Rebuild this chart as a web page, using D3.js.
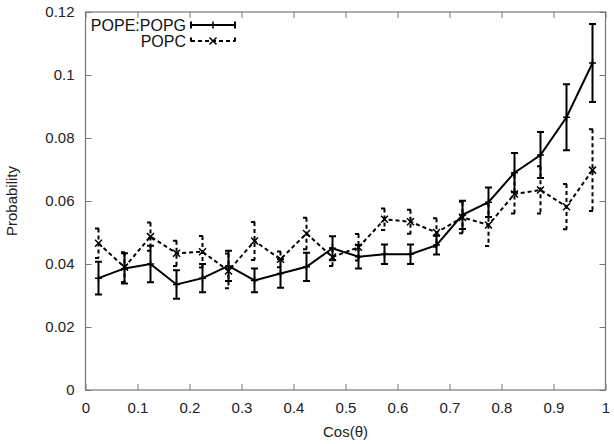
<!DOCTYPE html>
<html>
<head>
<meta charset="utf-8">
<script src="https://cdn.jsdelivr.net/npm/d3@7"></script>
<style>
  body { margin: 0; background: #fff; }
  svg { display: block; font-family: "Liberation Sans", Arial, sans-serif; }
</style>
</head>
<body>
<svg id="chart"></svg>
<script>
// Bin centres along cos(theta)
const binCenters = [0.025, 0.075, 0.125, 0.175, 0.225, 0.275, 0.325, 0.375, 0.425, 0.475,
                    0.525, 0.575, 0.625, 0.675, 0.725, 0.775, 0.825, 0.875, 0.925, 0.975];

// POPE:POPG probabilities and error half-widths
const popgValues = [0.0355, 0.0386, 0.0400, 0.0335, 0.0355, 0.0394, 0.0348, 0.0370, 0.0391, 0.0450,
                    0.0423, 0.0431, 0.0431, 0.0460, 0.0556, 0.0596, 0.0690, 0.0746, 0.0866, 0.1038];
const popgErrors = [0.0052, 0.0048, 0.0058, 0.0045, 0.0045, 0.0048, 0.0038, 0.0045, 0.0045, 0.0038,
                    0.0037, 0.0031, 0.0031, 0.0030, 0.0045, 0.0047, 0.0062, 0.0073, 0.0105, 0.0124];

// POPC probabilities and error half-widths
const popcValues = [0.0466, 0.0390, 0.0487, 0.0434, 0.0439, 0.0378, 0.0473, 0.0415, 0.0497, 0.0422,
                    0.0453, 0.0542, 0.0534, 0.0500, 0.0548, 0.0524, 0.0622, 0.0635, 0.0582, 0.0698];
const popcErrors = [0.0047, 0.0047, 0.0045, 0.0040, 0.0050, 0.0055, 0.0060, 0.0025, 0.0050, 0.0028,
                    0.0042, 0.0034, 0.0038, 0.0045, 0.0050, 0.0067, 0.0062, 0.0075, 0.0072, 0.0130];

const xTicks = [0, 0.1, 0.2, 0.3, 0.4, 0.5, 0.6, 0.7, 0.8, 0.9, 1];
const yTicks = [0, 0.02, 0.04, 0.06, 0.08, 0.1, 0.12];

const seriesNames = ["POPE:POPG", "POPC"];

const width = 614, height = 444;
const margin = { top: 12, right: 8.5, bottom: 54, left: 85.5 };

const svg = d3.select("#chart").attr("width", width).attr("height", height);

const x = d3.scaleLinear().domain([0, 1]).range([margin.left, width - margin.right]);
const y = d3.scaleLinear().domain([0, 0.12]).range([height - margin.bottom, margin.top]);

const frameColor = "#777";
const tickLen = 6;
const fontSize = 15;

// Axes: bottom/left with labels, top/right mirrored ticks only
const fmt = d => d === 0 ? "0" : String(+d.toFixed(2));

svg.append("g")
  .attr("transform", `translate(0,${y(0)})`)
  .call(d3.axisBottom(x).tickValues(xTicks).tickSizeInner(-tickLen).tickSizeOuter(0).tickPadding(12).tickFormat(fmt))
  .call(g => g.select(".domain").remove());

svg.append("g")
  .attr("transform", `translate(0,${y(0.12)})`)
  .call(d3.axisTop(x).tickValues(xTicks).tickSizeInner(-tickLen).tickSizeOuter(0).tickFormat(""))
  .call(g => g.select(".domain").remove());

svg.append("g")
  .attr("transform", `translate(${x(0)},0)`)
  .call(d3.axisLeft(y).tickValues(yTicks).tickSizeInner(-tickLen).tickSizeOuter(0).tickPadding(11).tickFormat(fmt))
  .call(g => g.select(".domain").remove());

svg.append("g")
  .attr("transform", `translate(${x(1)},0)`)
  .call(d3.axisRight(y).tickValues(yTicks).tickSizeInner(-tickLen).tickSizeOuter(0).tickFormat(""))
  .call(g => g.select(".domain").remove());

svg.selectAll(".tick line").attr("stroke", frameColor).attr("stroke-width", 1);
svg.selectAll(".tick text").attr("font-size", fontSize).attr("fill", "#222")
  .attr("font-family", "'Liberation Sans', Arial, sans-serif");

// Frame
svg.append("rect")
  .attr("x", x(0)).attr("y", y(0.12))
  .attr("width", x(1) - x(0)).attr("height", y(0) - y(0.12))
  .attr("fill", "none").attr("stroke", frameColor).attr("stroke-width", 1.2);

// Axis titles
svg.append("text")
  .attr("x", (x(0) + x(1)) / 2).attr("y", 437)
  .attr("text-anchor", "middle").attr("font-size", fontSize).attr("fill", "#222")
  .text("Cos(θ)");

svg.append("text")
  .attr("transform", `translate(17,${(y(0) + y(0.12)) / 2}) rotate(-90)`)
  .attr("text-anchor", "middle").attr("font-size", fontSize).attr("fill", "#222")
  .text("Probability");

const series = [
  { name: seriesNames[0], values: popgValues, errors: popgErrors, dash: null, marker: "plus" },
  { name: seriesNames[1], values: popcValues, errors: popcErrors, dash: "4,3", marker: "cross" }
];

const cap = 3.5;
const line = d3.line().x(d => x(d.x)).y(d => y(d.v));

function drawMarker(g, cx, cy, type) {
  const s = 3.5;
  if (type === "plus") {
    g.append("path").attr("d", `M${cx - s},${cy}H${cx + s}M${cx},${cy - s}V${cy + s}`)
      .attr("stroke", "#000").attr("stroke-width", 1.5);
  } else {
    g.append("path").attr("d", `M${cx - s},${cy - s}L${cx + s},${cy + s}M${cx - s},${cy + s}L${cx + s},${cy - s}`)
      .attr("stroke", "#000").attr("stroke-width", 1.5);
  }
}

series.slice().reverse().forEach(s => {
  const pts = binCenters.map((c, i) => ({ x: c, v: s.values[i], e: s.errors[i] }));
  const g = svg.append("g");

  g.append("path")
    .datum(pts)
    .attr("d", line)
    .attr("fill", "none").attr("stroke", "#000").attr("stroke-width", 2)
    .attr("stroke-dasharray", s.dash);

  g.selectAll(".err")
    .data(pts)
    .join("path")
    .attr("d", d => {
      const cx = x(d.x), y1 = y(d.v + d.e), y2 = y(d.v - d.e);
      return `M${cx},${y1}V${y2}M${cx - cap},${y1}H${cx + cap}M${cx - cap},${y2}H${cx + cap}`;
    })
    .attr("fill", "none").attr("stroke", "#000").attr("stroke-width", 2)
    .attr("stroke-dasharray", s.dash);

  pts.forEach(d => drawMarker(g, x(d.x), y(d.v), s.marker));
});

// Legend
series.forEach((s, i) => {
  const ly = 25 + i * 16;
  const x1 = 191, x2 = 235;
  svg.append("text")
    .attr("x", 186).attr("y", ly + 5.5)
    .attr("text-anchor", "end").attr("font-size", 16).attr("fill", "#111")
    .text(s.name);
  svg.append("path")
    .attr("d", `M${x1},${ly}H${x2}M${x1},${ly - cap}V${ly + cap}M${x2},${ly - cap}V${ly + cap}`)
    .attr("fill", "none").attr("stroke", "#000").attr("stroke-width", 2)
    .attr("stroke-dasharray", s.dash);
  drawMarker(svg, (x1 + x2) / 2, ly, s.marker);
});
</script>
</body>
</html>
